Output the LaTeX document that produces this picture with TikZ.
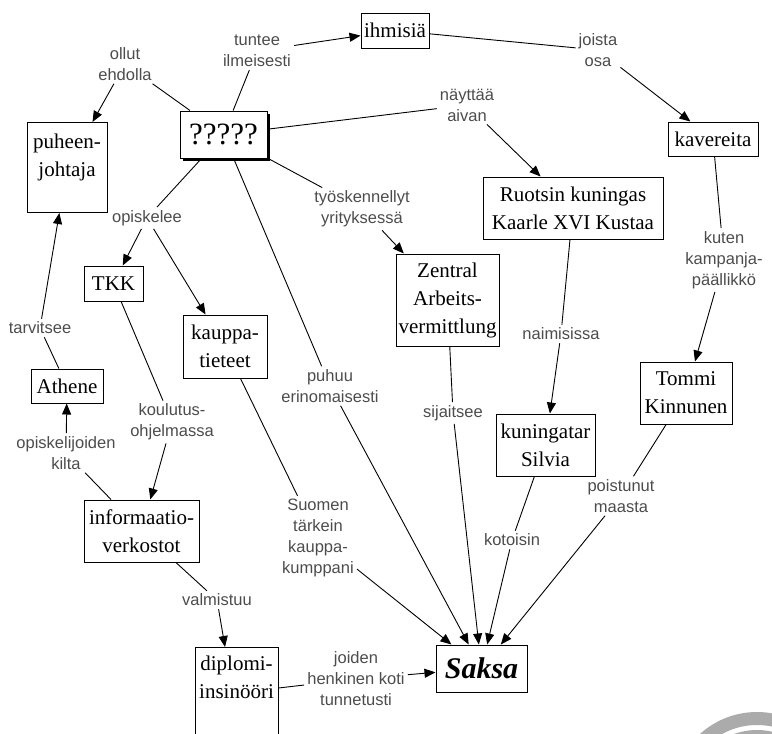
\documentclass[tikz,border=0pt]{standalone}
\usepackage{fontspec}
\setmainfont{Liberation Serif}
\newfontfamily\lblsans{Liberation Sans}
\usepackage{tikz}
\usetikzlibrary{arrows.meta,shadows}
\newcommand\bxfont{\fontsize{21pt}{28pt}\selectfont}
\newcommand\lbfont{\lblsans\fontsize{16.5pt}{21pt}\selectfont}

\begin{document}
\begin{tikzpicture}[x=1pt,y=-1pt,
    box/.style={draw,fill=white,line width=1pt,font=\bxfont,align=center,inner sep=2pt},
    lbl/.style={font=\lbfont,text=black!70,align=center,inner sep=3pt},
    con/.style={line width=0.9pt},
    arr/.style={line width=0.9pt,-{Triangle[length=11pt,width=9pt]}}]
  \clip (0,0) rectangle (772,734);
  \draw[black!33,line width=13pt] (757,797) circle[radius=78.5pt];
  \draw[black!33,line width=12pt] (757,797) circle[radius=61pt];

  \node[box,minimum width=68pt,minimum height=35pt] (ihm) at (395,30.5) {ihmisiä};
  \node[box,minimum width=87pt,minimum height=47pt,font=\fontsize{31pt}{34pt}\selectfont,
        drop shadow={shadow xshift=3pt,shadow yshift=-3pt,fill=black,opacity=1}] (q) at (223.5,134.5) {?????};
  \node[box,anchor=north] (puh) at (67,122) {\parbox[c][86pt][t]{76pt}{\centering\rule{0pt}{24pt}puheen-\\johtaja}};
  \node[box,minimum width=90pt,minimum height=34pt] (kav) at (713,139) {kavereita};
  \node[box,minimum width=180pt,minimum height=62pt] (ruo) at (573,208) {Ruotsin kuningas\\Kaarle XVI Kustaa};
  \node[box,minimum width=59pt,minimum height=35pt] (tkk) at (113.5,283.5) {TKK};
  \node[box,minimum width=84pt,minimum height=63pt] (kaup) at (225,346.5) {kauppa-\\tieteet};
  \node[box,minimum width=72pt,minimum height=34pt] (ath) at (67,386) {Athene};
  \node[box,minimum width=103pt,minimum height=92pt] (zen) at (447.5,300) {Zentral\\Arbeits-\\vermittlung};
  \node[box,minimum width=99pt,minimum height=62pt] (kun) at (545.5,445) {kuningatar\\Silvia};
  \node[box,minimum width=92pt,minimum height=62pt] (tom) at (686,393) {Tommi\\Kinnunen};
  \node[box,minimum width=115pt,minimum height=62pt] (info) at (141.5,531) {informaatio-\\verkostot};
  \node[box,anchor=north] (dip) at (236.5,647) {\parbox[c][129pt][t]{79pt}{\centering\rule{0pt}{21pt}diplomi-\\insinööri}};
  \node[box,minimum width=91pt,minimum height=47pt,font=\fontsize{30pt}{34pt}\selectfont\bfseries\itshape] (saksa) at (481.5,668.5) {Saksa};

  \node[lbl] (ollut) at (125,64) {ollut\\ehdolla};
  \node[lbl] (tuntee) at (257,51) {tuntee\\ilmeisesti};
  \node[lbl] (joista) at (598,50) {joista\\osa};
  \node[lbl] (nayttaa) at (467,105) {näyttää\\aivan};
  \node[lbl] (opisk) at (147,218) {opiskelee};
  \node[lbl] (tyosk) at (362,209) {työskennellyt\\yrityksessä};
  \node[lbl] (kuten) at (724,260) {kuten\\kampanja-\\päällikkö};
  \node[lbl] (tarv) at (40,328) {tarvitsee};
  \node[lbl] (koul) at (172,422) {koulutus-\\ohjelmassa};
  \node[lbl] (puhuu) at (330,386) {puhuu\\erinomaisesti};
  \node[lbl] (kilta) at (66,453) {opiskelijoiden\\kilta};
  \node[lbl] (naim) at (561,334) {naimisissa};
  \node[lbl] (sijai) at (453,413) {sijaitsee};
  \node[lbl] (poist) at (621,496) {poistunut\\maasta};
  \node[lbl] (koto) at (512,540) {kotoisin};
  \node[lbl] (suomen) at (318,538) {Suomen\\tärkein\\kauppa-\\kumppani};
  \node[lbl] (valm) at (217,600) {valmistuu};
  \node[lbl] (joiden) at (356,679) {joiden\\henkinen koti\\tunnetusti};

  \draw[con] (q) -- (ollut);   \draw[arr] (ollut) -- (puh);
  \draw[con] (q) -- (tuntee);  \draw[arr] (tuntee) -- (ihm);
  \draw[con] (ihm) -- (joista); \draw[arr] (joista) -- (kav);
  \draw[con] (q) -- (nayttaa); \draw[arr] (nayttaa) -- (ruo);
  \draw[con] (q) -- (opisk);   \draw[arr] (opisk) -- (tkk);
  \draw[arr] (opisk) -- (kaup);
  \draw[con] (q) -- (tyosk);   \draw[arr] (tyosk) -- (zen);
  \draw[con] (q) -- (puhuu);   \draw[arr] (puhuu) -- (saksa);
  \draw[con] (kav) -- (kuten); \draw[arr] (kuten) -- (tom);
  \draw[con] (ath) -- (tarv);  \draw[arr] (tarv) -- (puh);
  \draw[con] (tkk) -- (koul);  \draw[arr] (koul) -- (info);
  \draw[con] (kaup) -- (suomen); \draw[arr] (suomen) -- (saksa);
  \draw[con] (info) -- (kilta); \draw[arr] (kilta) -- (ath);
  \draw[con] (ruo) -- (naim);  \draw[arr] (naim) -- (kun);
  \draw[con] (zen) -- (sijai); \draw[arr] (sijai) -- (saksa);
  \draw[con] (kun) -- (koto);  \draw[arr] (koto) -- (saksa);
  \draw[con] (tom) -- (poist); \draw[arr] (poist) -- (saksa);
  \draw[con] (info) -- (valm); \draw[arr] (valm) -- (dip);
  \draw[con] ([yshift=-41pt]dip.north east) -- (joiden); \draw[arr] (joiden) -- (saksa);
\end{tikzpicture}
\end{document}
